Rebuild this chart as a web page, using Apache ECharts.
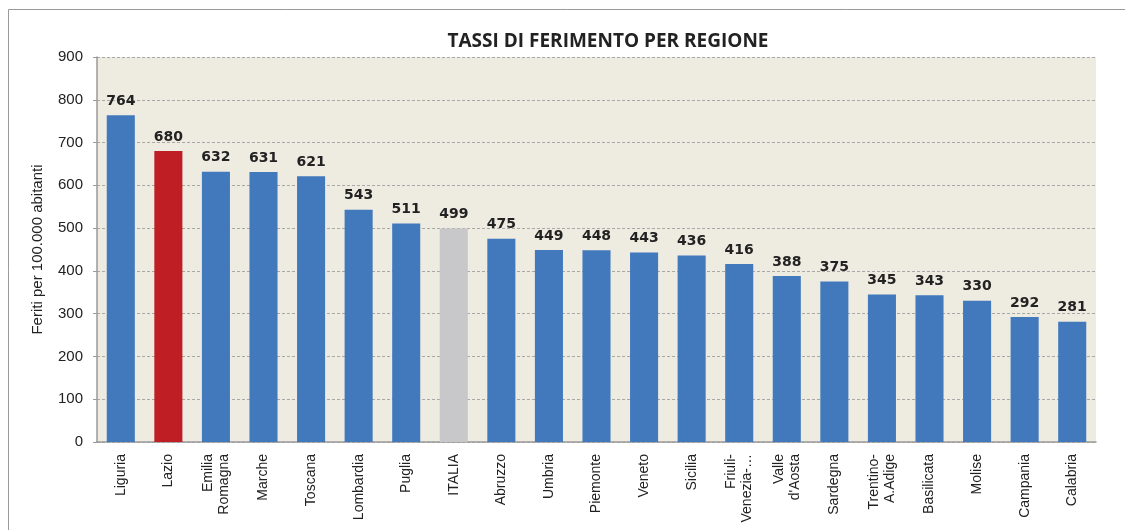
<!DOCTYPE html>
<html>
<head>
<meta charset="utf-8">
<script src="https://cdn.jsdelivr.net/npm/echarts@6/dist/echarts.min.js"></script>
<style>
  html, body { margin: 0; padding: 0; background: #fff; }
  #chart { width: 1125px; height: 530px; }
</style>
</head>
<body>
<div id="chart"></div>
<script>
// Dati
const regions = [
  'Liguria', 'Lazio', 'Emilia\nRomagna', 'Marche', 'Toscana', 'Lombardia',
  'Puglia', 'ITALIA', 'Abruzzo', 'Umbria', 'Piemonte', 'Veneto', 'Sicilia',
  'Friuli-\nVenezia-…', 'Valle\nd\'Aosta', 'Sardegna', 'Trentino-\nA.Adige',
  'Basilicata', 'Molise', 'Campania', 'Calabria'
];
const rates = [
  764, 680, 632, 631, 621, 543, 511, 499, 475, 449, 448, 443, 436,
  416, 388, 375, 345, 343, 330, 292, 281
];
const yTicks = [0, 100, 200, 300, 400, 500, 600, 700, 800, 900];

const BLUE = '#4279BD';
const highlight = { 'Lazio': '#BE1E24', 'ITALIA': '#C8C8CB' };

const chart = echarts.init(document.getElementById('chart'), null, { renderer: 'canvas' });

const option = {
  backgroundColor: '#fff',
  animation: false,
  title: {
    text: 'TASSI DI FERIMENTO PER REGIONE',
    left: 603,
    top: 27,
    textAlign: 'center',
    textStyle: { fontFamily: 'Open Sans', fontWeight: 'bold', fontSize: 19, color: '#222' }
  },
  graphic: [{
    type: 'rect',
    shape: { x: 8.5, y: 9.5, width: 1130, height: 540 },
    style: { fill: 'none', stroke: '#9a9a9a', lineWidth: 1 },
    silent: true,
    z: -1
  }],
  grid: {
    left: 97, right: 29, top: 57, bottom: 88,
    show: true, backgroundColor: '#EEEBE1', borderWidth: 0
  },
  xAxis: {
    type: 'category',
    data: regions,
    axisLine: { lineStyle: { color: '#9a9a9a', width: 1.5 } },
    axisTick: { show: false },
    axisLabel: {
      rotate: 90, interval: 0, margin: 12,
      fontFamily: 'Liberation Sans', fontSize: 14, color: '#222', lineHeight: 16
    }
  },
  yAxis: {
    type: 'value',
    min: yTicks[0], max: yTicks[yTicks.length - 1], interval: 100,
    name: 'Feriti per 100.000 abitanti',
    nameLocation: 'middle',
    nameGap: 52,
    nameTextStyle: { fontFamily: 'Liberation Sans', fontSize: 15, color: '#222' },
    axisLine: { show: true, lineStyle: { color: '#9a9a9a', width: 1.5 } },
    axisTick: { show: true, length: 4, lineStyle: { color: '#9a9a9a' } },
    axisLabel: { fontFamily: 'Liberation Sans', fontSize: 15, color: '#222', margin: 14 },
    splitLine: { lineStyle: { color: '#a8a8a8', type: [3, 2], width: 1 } }
  },
  series: [{
    type: 'bar',
    barWidth: '59%',
    data: rates.map((v, i) => ({
      value: v,
      itemStyle: { color: highlight[regions[i]] || BLUE }
    })),
    label: {
      show: true,
      position: 'top',
      distance: 7,
      fontFamily: 'DejaVu Sans',
      fontWeight: 'bold',
      fontSize: 14,
      color: '#222'
    }
  }]
};

chart.setOption(option);
</script>
</body>
</html>
